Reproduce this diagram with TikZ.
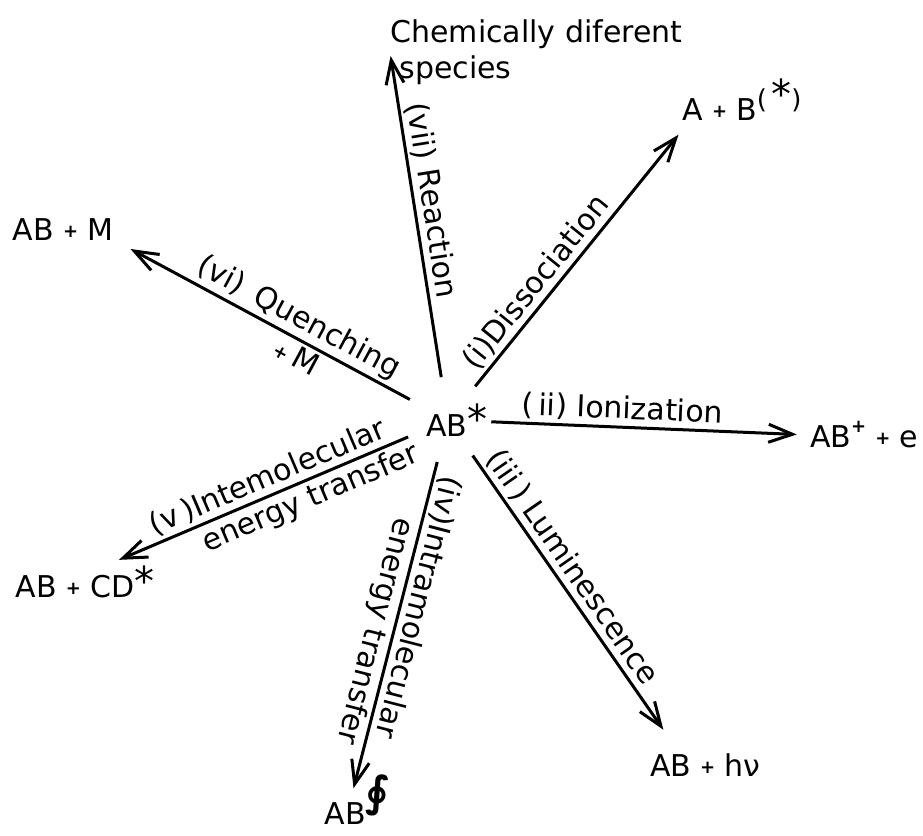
\documentclass[tikz,border=0pt]{standalone}
\usepackage{fontspec}
\setmainfont{DejaVu Sans}
\usetikzlibrary{arrows.meta}
\newcommand{\plus}{\hspace{0.3em}\raisebox{0.1em}{\fontsize{9}{9}\selectfont\bfseries +}\hspace{0.3em}}
\newcommand{\bigstar}{{\fontsize{20}{20}\selectfont *}}
\tikzset{
  flow/.style={draw=black, line width=1.5pt, -{Straight Barb[length=12pt, width=9pt]}},
  centre/.style={circle, minimum size=42pt, inner sep=0pt, font=\fontsize{15}{17}\selectfont},
  product/.style={inner sep=0pt, font=\fontsize{15}{18}\selectfont},
  steplabel/.style={sloped, inner sep=1.5pt, font=\fontsize{15}{17}\selectfont}
}

\begin{document}
\begin{tikzpicture}[x=0.5pt, y=-0.5pt]
  \useasboundingbox (0,0) rectangle (923,836);
  % excited molecule in the middle
  \node[centre] (ABx) at (448,420) {\hspace{0.6em}AB\raisebox{0.12em}{\bigstar}};

  % products
  \node[product] (AplusB) at (742,100) {A\plus B\raisebox{0.4em}{\fontsize{13}{13}\selectfont(\,\bigstar)}};
  \node[product] (ABion) at (864,435) {AB\raisebox{0.5em}{\fontsize{9}{9}\selectfont\bfseries +}\plus e};
  \node[product] (ABlum) at (705,765) {AB\plus hν};
  \node[product] (ABintra) at (357,800) {AB\raisebox{0.6em}{\fontsize{21}{21}\selectfont\bfseries ∮}};
  \node[product] (ABCD) at (85,582) {AB\plus CD\raisebox{0.05em}{\bigstar}};
  \node[product] (ABM) at (63,230) {AB\plus M};
  \node[product, anchor=west, align=left] (chem) at (390,52) {Chemically diferent\\\hspace{0.3em}species};

  % pathways
  \draw[flow, shorten >=8.6pt] (ABx) -- (AplusB.202)
    node[steplabel, above, pos=0.35] (lbDiss) {(i)Dissociation};
  \draw[flow, shorten >=6.5pt] (ABx) -- (ABion.west)
    node[steplabel, above, pos=0.41] (lbIon) {(\,ii) Ionization};
  \draw[flow, shorten >=14.3pt] (ABx) -- (ABlum.155)
    node[steplabel, above, pos=0.41] (lbLum) {(iii\,) Luminescence};
  \draw[flow, shorten >=-7pt] (ABx) -- (ABintra.north)
    node[steplabel, allow upside down, above, pos=0.45] (lbIntraA) {(iv)Intramolecular}
    node[steplabel, allow upside down, below, pos=0.555] (lbIntraB) {energy transfer};
  \draw[flow, shorten >=7.6pt] (ABx) -- (ABCD.39)
    node[steplabel, above, pos=0.44] (lbInterA) {(v\,)Intemolecular}
    node[steplabel, below, pos=0.345] (lbInterB) {energy transfer};
  \draw[flow, shorten >=9.7pt] (ABx) -- (ABM.-11)
    node[steplabel, above, pos=0.405] (lbQuench) {(vi)\, Quenching}
    node[steplabel, below, pos=0.356] (lbQuenchM) {{\fontsize{9}{9}\selectfont\bfseries +}\,M};
  \draw[flow, shorten >=2pt] (ABx) -- (chem.west)
    node[steplabel, above, pos=0.535] (lbReact) {(vii) Reaction};
\end{tikzpicture}
\end{document}
